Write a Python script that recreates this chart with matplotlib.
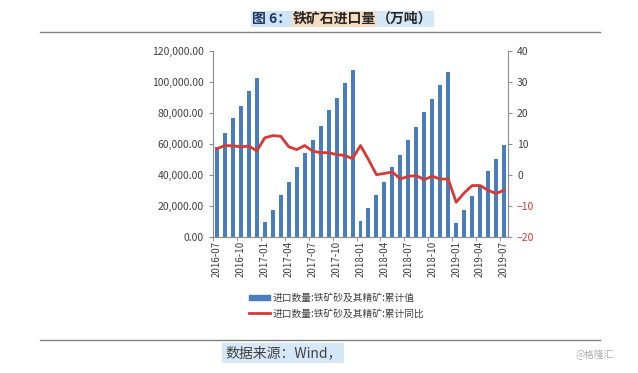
import matplotlib.pyplot as plt
import numpy as np
from matplotlib.patches import Patch
from matplotlib.lines import Line2D

plt.rcParams['font.family'] = ['Noto Sans CJK SC', 'DejaVu Sans']

months = ["2016-07", "2016-08", "2016-09", "2016-10", "2016-11", "2016-12",
          "2017-01", "2017-02", "2017-03", "2017-04", "2017-05", "2017-06",
          "2017-07", "2017-08", "2017-09", "2017-10", "2017-11", "2017-12",
          "2018-01", "2018-02", "2018-03", "2018-04", "2018-05", "2018-06",
          "2018-07", "2018-08", "2018-09", "2018-10", "2018-11", "2018-12",
          "2019-01", "2019-02", "2019-03", "2019-04", "2019-05", "2019-06",
          "2019-07"]
# 累计值 (万吨)
cum_value = [58200, 67200, 76500, 84700, 94000, 102400,
             9500, 17700, 27400, 35600, 45000, 54300,
             62900, 71600, 81900, 89900, 99600, 107500,
             10100, 18750, 27400, 35600, 45000, 53200,
             62300, 71100, 80600, 89200, 97800, 106700,
             9300, 17700, 26500, 33400, 42500, 50200,
             59300]
# 累计同比 (%)
cum_yoy = [8.5, 9.5, 9.4, 9.1, 9.3, 7.8,
           12.0, 12.7, 12.5, 9.1, 8.2, 9.5,
           7.7, 7.2, 7.2, 6.6, 6.3, 5.3,
           9.5, 5.0, 0.1, 0.5, 1.0, -1.3,
           -0.4, -0.2, -1.5, -0.4, -1.3, -1.3,
           -8.8, -5.8, -3.4, -3.4, -4.9, -6.0,
           -4.9]

blue = "#4a7ebb"
red = "#d63a35"
grey = "#8c8c8c"

fig = plt.figure(figsize=(6.38, 3.73), dpi=100)
ax = fig.add_axes([213 / 638, 1 - 237 / 373, 295 / 638, 186 / 373])
x = np.arange(len(months))
ax.bar(x, cum_value, width=0.5, color=blue, zorder=2)
ax.set_xlim(-0.5, len(months) - 0.5)
ax.set_ylim(0, 120000)
ax.set_yticks(np.arange(0, 120001, 20000))
ax.set_yticklabels([f"{v:,.2f}" for v in np.arange(0, 120001, 20000)])
ax.set_xticks(x[::3])
ax.set_xticklabels(months[::3], rotation=90)
ax.tick_params(axis='x', length=0, labelsize=7, colors="#404040", pad=3)
ax.set_xticks(np.arange(-0.5, len(months), 3), minor=True)
ax.tick_params(axis='x', which='minor', length=3, color=grey)
ax.tick_params(axis='y', length=3, color=grey, labelsize=7.5, labelcolor="#404040")
for s in ['top', 'right']:
    ax.spines[s].set_visible(False)
ax.spines['left'].set_color(grey)
ax.spines['bottom'].set_color(grey)

ax2 = ax.twinx()
ax2.plot(x, cum_yoy, color=red, lw=2, zorder=3)
ax2.set_ylim(-20, 40)
ax2.set_yticks(np.arange(-20, 41, 10))
ax2.tick_params(axis='y', length=3, color=grey, labelsize=7.5, labelcolor="#404040")
for lbl, v in zip(ax2.get_yticklabels(), np.arange(-20, 41, 10)):
    if v < 0:
        lbl.set_color(red)
for s in ['top', 'left', 'bottom']:
    ax2.spines[s].set_visible(False)
ax2.spines['right'].set_color(grey)

# legend
handles = [Patch(color=blue), Line2D([0], [0], color=red, lw=2)]
fig.legend(handles, ["进口数量:铁矿砂及其精矿:累计值", "进口数量:铁矿砂及其精矿:累计同比"],
           loc='upper left', bbox_to_anchor=(240 / 638, 1 - 284 / 373), frameon=False,
           fontsize=7, handlelength=2.2, handleheight=0.5, handletextpad=0.2,
           labelspacing=0.6, labelcolor="#404040")

# title and rules
ty = 1 - 19 / 373
fig.text(252 / 638, ty, "图 6：", fontsize=10, color="#1f3864", fontweight='bold',
         va='center', ha='left', bbox=dict(facecolor="#cfe3f7", edgecolor='none', pad=1))
fig.text(293 / 638, ty, "铁矿石进口量", fontsize=10, color="#262626", fontweight='bold',
         va='center', ha='left', bbox=dict(facecolor="#f6dcc0", edgecolor='none', pad=1))
fig.text(377 / 638, ty, "（万吨）", fontsize=10, color="#262626", fontweight='bold',
         va='center', ha='left', bbox=dict(facecolor="#d6e8f8", edgecolor='none', pad=1))
fig.add_artist(Line2D([40 / 638, 600 / 638], [1 - 32 / 373, 1 - 32 / 373], color="#808080", lw=1))
fig.add_artist(Line2D([40 / 638, 600 / 638], [1 - 340 / 373, 1 - 340 / 373], color="#808080", lw=1))
fig.text(225 / 638, 1 - 353 / 373, "数据来源：Wind，", fontsize=10, color="#404040",
         va='center', ha='left', bbox=dict(facecolor="#d6e8f8", edgecolor='none', pad=2))
fig.text(575 / 638, 1 - 355 / 373, "@格隆汇", fontsize=7, color="#b0b0b0", va='center', ha='left')

fig.savefig("out.png", dpi=100)
